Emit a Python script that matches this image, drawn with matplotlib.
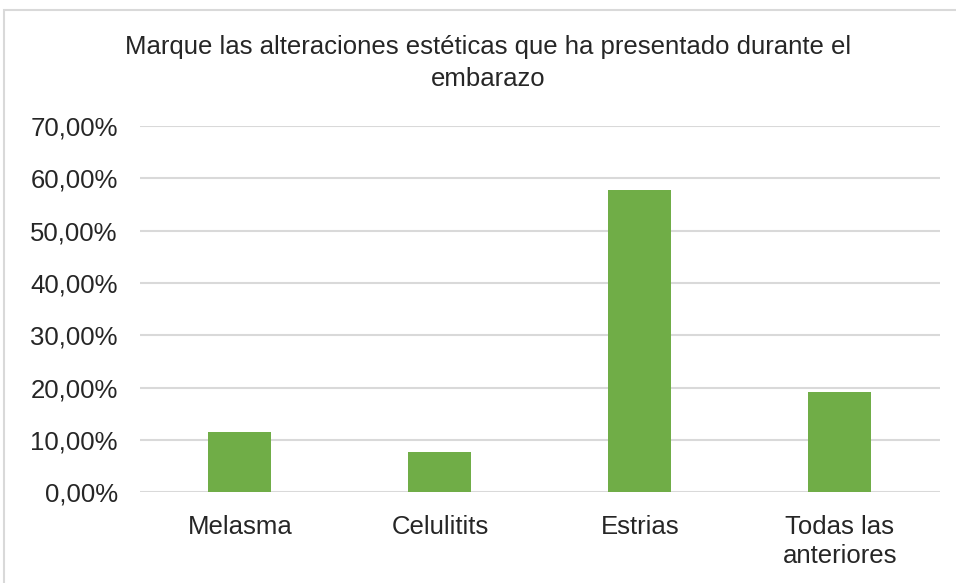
import matplotlib.pyplot as plt
from matplotlib.patches import Rectangle
from matplotlib.ticker import FuncFormatter

categories = ['Melasma', 'Celulitits', 'Estrias', 'Todas las\nanteriores']
values = [11.54, 7.69, 57.69, 19.23]
yticks = [0, 10, 20, 30, 40, 50, 60, 70]

plt.rcParams['font.family'] = ['Liberation Sans', 'DejaVu Sans']

fig = plt.figure(figsize=(9.56, 5.83), dpi=100)
ax = fig.add_axes([0.1464, 0.1556, 0.8366, 0.6283])

# chart frame
fig.patches.append(Rectangle((4 / 956, -0.1), 1.2, 1 - 10 / 583 + 0.1,
                             transform=fig.transFigure, fill=False,
                             edgecolor='#d9d9d9', linewidth=1.5))

x = range(len(categories))
ax.bar(x, values, width=0.315, color='#70ad47', zorder=3)

ax.set_xlim(-0.5, len(categories) - 0.5)
ax.set_ylim(0, 70)
ax.set_yticks(yticks)
ax.yaxis.set_major_formatter(FuncFormatter(lambda v, p: f'{v:.2f}%'.replace('.', ',')))
ax.set_xticks(list(x))
ax.set_xticklabels(categories, linespacing=1.3)
ax.grid(axis='y', color='#d9d9d9', linewidth=1.5, zorder=0)
for s in ax.spines.values():
    s.set_visible(False)
ax.tick_params(length=0, colors='#262626')
ax.tick_params(axis='x', labelsize=18.5, pad=16)
ax.tick_params(axis='y', labelsize=18.5, pad=16)

fig.text(0.511, 0.892, 'Marque las alteraciones estéticas que ha presentado durante el\nembarazo',
         ha='center', va='center', fontsize=18.5, color='#262626', linespacing=1.4)

fig.savefig('out.png', dpi=100)
